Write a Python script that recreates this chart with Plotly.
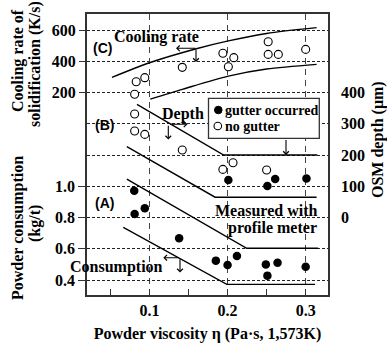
import plotly.graph_objects as go

# ---------------- data ----------------
cool_x = [0.083, 0.094, 0.081, 0.142, 0.194, 0.208, 0.201, 0.252, 0.252, 0.265, 0.300]
cool_rate = [269, 295, 189, 361, 451, 423, 365, 525, 444, 444, 476]

depth_open_x = [0.081, 0.081, 0.094, 0.142, 0.194, 0.207, 0.250]
depth_open = [331, 277, 266, 216, 154, 175, 152]
depth_fill_x = [0.201, 0.251, 0.261, 0.301]
depth_fill = [120, 101, 123, 125]

cons_x = [0.0805, 0.094, 0.081, 0.138, 0.185, 0.200, 0.212, 0.249, 0.264, 0.251, 0.300]
cons = [0.971, 0.859, 0.822, 0.667, 0.524, 0.496, 0.554, 0.500, 0.511, 0.428, 0.485]

cool_upper_x = [0.052, 0.101, 0.160, 0.201, 0.250, 0.314]
cool_upper = [297, 392, 480, 530, 578, 615]
cool_lower_x = [0.101, 0.143, 0.201, 0.250, 0.314]
cool_lower = [158, 222, 305, 350, 380]
depth_upper_x = [0.084, 0.195, 0.315]
depth_upper = [362, 200, 200]
depth_lower_x = [0.071, 0.184, 0.314]
depth_lower = [227, 65, 65]
cons_upper_x = [0.071, 0.2245, 0.316]
cons_upper = [1.046, 0.603, 0.603]
cons_lower_x = [0.0665, 0.199, 0.312]
cons_lower = [0.737, 0.372, 0.372]

x_major = [0.1, 0.2, 0.3]
x_minor = [0.05, 0.15, 0.25]
cons_ticks = [0.4, 0.6, 0.8, 1.0]
cons_grid_extra = [1.2, 1.4, 1.6, 1.8, 2.0]
depth_ticks = [0, 100, 200, 300, 400]
cool_ticks = [200, 400, 600]

# ---------------- layout geometry ----------------
W, H = 387, 347
L, R, T, B = 87, 59, 14, 52
PW, PH = W - L - R, H - T - B


def xp(px):
    return (px - L) / PW


def yp(py):
    return (H - B - py) / PH


SERIF = "Liberation Serif"
SANS = "Liberation Sans"
BLACK = "#000000"

fig = go.Figure()

line_style = dict(color=BLACK, width=1.4)
# model lines
fig.add_trace(go.Scatter(x=cool_upper_x, y=cool_upper, yaxis="y3", mode="lines",
                         line=dict(shape="spline", smoothing=0.8, **line_style), showlegend=False))
fig.add_trace(go.Scatter(x=cool_lower_x, y=cool_lower, yaxis="y3", mode="lines",
                         line=dict(shape="spline", smoothing=0.8, **line_style), showlegend=False))
fig.add_trace(go.Scatter(x=depth_upper_x, y=depth_upper, yaxis="y2", mode="lines",
                         line=line_style, showlegend=False))
fig.add_trace(go.Scatter(x=depth_lower_x, y=depth_lower, yaxis="y2", mode="lines",
                         line=line_style, showlegend=False))
fig.add_trace(go.Scatter(x=cons_upper_x, y=cons_upper, yaxis="y", mode="lines",
                         line=line_style, showlegend=False))
fig.add_trace(go.Scatter(x=cons_lower_x, y=cons_lower, yaxis="y", mode="lines",
                         line=line_style, showlegend=False))

open_marker = dict(symbol="circle", size=8, color="white", line=dict(color=BLACK, width=1.1))
fill_marker = dict(symbol="circle", size=8.5, color=BLACK, line=dict(color=BLACK, width=0))

fig.add_trace(go.Scatter(x=cool_x, y=cool_rate, yaxis="y3", mode="markers",
                         marker=open_marker, name="no gutter", showlegend=False))
fig.add_trace(go.Scatter(x=depth_open_x, y=depth_open, yaxis="y2", mode="markers",
                         marker=open_marker, name="no gutter", showlegend=False))
fig.add_trace(go.Scatter(x=depth_fill_x, y=depth_fill, yaxis="y2", mode="markers",
                         marker=fill_marker, name="gutter occurred", showlegend=False))
fig.add_trace(go.Scatter(x=cons_x, y=cons, yaxis="y", mode="markers",
                         marker=fill_marker, name="gutter occurred", showlegend=False))

tickfont = dict(family=SERIF, size=16, color=BLACK, weight="bold")
axis_line = dict(showline=True, linecolor="#333333", linewidth=1.5)

fig.update_layout(
    width=W, height=H,
    margin=dict(l=L, r=R, t=T, b=B, pad=0, autoexpand=False),
    paper_bgcolor="white", plot_bgcolor="white",
    xaxis=dict(
        range=[0.020, 0.3286], tickmode="array", tickvals=x_major,
        ticktext=[f"{v:.1f}" for v in x_major],
        ticks="inside", ticklen=6, tickwidth=1.3, tickcolor="#333333",
        showgrid=True, gridcolor="#444444", griddash="6px,5px", gridwidth=1.3,
        minor=dict(tickmode="array", tickvals=x_minor, ticks="inside", ticklen=6,
                   tickwidth=1.3, tickcolor="#333333", showgrid=False),
        mirror=True, zeroline=False, tickfont=tickfont, automargin=True,
        title=dict(text="Powder viscosity η (Pa·s, 1,573K)",
                   font=dict(family=SERIF, size=16, color=BLACK, weight="bold"),
                   standoff=10),
        **axis_line,
    ),
    yaxis=dict(
        range=[0.304, 2.1024], tickmode="array", tickvals=cons_ticks,
        ticktext=[f"{v:.1f}" for v in cons_ticks],
        ticks="outside", ticklen=7, tickwidth=1.3, tickcolor="#333333",
        showgrid=True, gridcolor="#222222", griddash="3px,2px", gridwidth=1,
        minor=dict(tickmode="array", tickvals=cons_grid_extra, ticks="",
                   showgrid=True, gridcolor="#222222", griddash="3px,2px", gridwidth=1),
        zeroline=False, tickfont=tickfont, **axis_line,
    ),
    yaxis2=dict(
        range=[-248, 651.2], overlaying="y", side="right", anchor="x",
        tickmode="array", tickvals=depth_ticks, ticktext=[str(v) for v in depth_ticks],
        ticks="", showgrid=False, zeroline=False, tickfont=tickfont,
        ticklabelstandoff=8, **axis_line,
    ),
    yaxis3=dict(
        range=[-1096, 702.4], overlaying="y", side="left", anchor="x",
        tickmode="array", tickvals=cool_ticks, ticktext=[str(v) for v in cool_ticks],
        ticks="outside", ticklen=7, tickwidth=1.3, tickcolor="#333333",
        showgrid=False, zeroline=False, showline=False, tickfont=tickfont,
    ),
    showlegend=False,
)

ann_font = dict(family=SERIF, size=16, color=BLACK, weight="bold")
leg_font = dict(family=SERIF, size=14, color=BLACK, weight="bold")
sans_font = dict(family=SANS, size=14, color=BLACK, weight="bold")


def text(s, px, py, font=ann_font, xanchor="center", angle=0):
    fig.add_annotation(text=s, x=xp(px), y=yp(py), xref="paper", yref="paper",
                       showarrow=False, font=font, xanchor=xanchor, yanchor="middle",
                       textangle=angle)


def arrow(hx, hy, ax, ay):
    fig.add_annotation(x=xp(hx), y=yp(hy), xref="paper", yref="paper", text="",
                       showarrow=True, arrowhead=4, arrowsize=1, arrowwidth=1.1,
                       arrowcolor=BLACK, ax=ax, ay=ay, standoff=0, startstandoff=0)


text("(C)", 102, 48, sans_font)
text("Cooling rate", 156.5, 36.7)
text("(B)", 104, 124.5, sans_font)
text("Depth", 183, 114)
text("(A)", 104, 203.3, sans_font)
text("Measured with", 318.5, 210.7, xanchor="right")
text("profile meter", 318.5, 228.3, xanchor="right")
text("Consumption", 116.3, 266.7)

# indicator arrows
arrow(176, 48.3, 21, 0)
arrow(196, 62, 0, -13.7)
arrow(187.5, 124.3, -19, 0)
arrow(168.3, 139.5, 0, -15.2)
arrow(286, 155, 0, -16.5)
arrow(163.3, 257.7, 17, 0)
arrow(180, 272.5, 0, -14.8)

# legend box
fig.add_shape(type="rect", xref="paper", yref="paper",
              x0=xp(208.5), x1=xp(319.3), y0=yp(138.3), y1=yp(98.3),
              line=dict(color="#333333", width=1.3), fillcolor="white", layer="above")
r = 3.8
fig.add_shape(type="circle", xref="paper", yref="paper",
              x0=xp(218.3 - r), x1=xp(218.3 + r), y0=yp(110 + r), y1=yp(110 - r),
              line=dict(color=BLACK, width=1), fillcolor=BLACK, layer="above")
fig.add_shape(type="circle", xref="paper", yref="paper",
              x0=xp(217.8 - r), x1=xp(217.8 + r), y0=yp(126 + r), y1=yp(126 - r),
              line=dict(color=BLACK, width=1.1), fillcolor="white", layer="above")
text("gutter occurred", 222.5, 110, font=leg_font, xanchor="left")
text("no gutter", 222.5, 126, font=leg_font, xanchor="left")

# y titles
text("Cooling rate of", 18, 61, angle=-90)
text("solidification (K/s)", 35, 64, angle=-90)
text("Powder consumption", 18, 228, angle=-90)
text("(kg/t)", 35, 224, angle=-90)
text("OSM depth (μm)", 378, 140, angle=-90)

fig.write_html(
    "out.html",
    config={"displayModeBar": False},
    post_script="document.body.style.margin='0px';document.body.style.padding='0px';",
)
